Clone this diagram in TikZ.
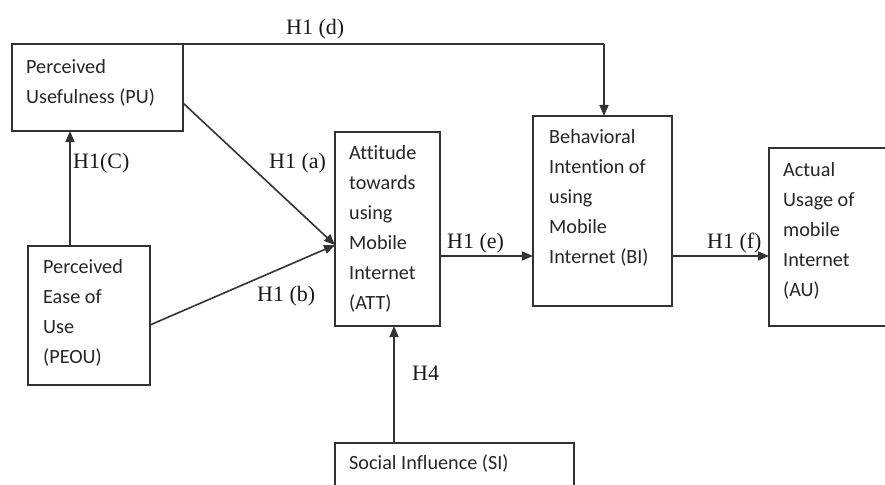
\documentclass[tikz,border=0pt]{standalone}
\usepackage{fontspec}
\setmainfont{Liberation Serif}
\newfontfamily\boxfont[Ligatures=NoCommon]{Carlito}
\usetikzlibrary{arrows.meta}
\newcommand\topstrut{\rule{0pt}{20pt}}
\tikzset{
  box/.style={draw=black!80, line width=1.6pt, anchor=north west, inner sep=0pt, outer sep=0pt},
  txt/.style={anchor=north west, inner sep=0pt, font=\boxfont\fontsize{20.2}{30}\selectfont, align=left, text=black!85},
  lbl/.style={anchor=base west, inner sep=0pt, font=\fontsize{22}{26}\selectfont, text=black!90},
  arr/.style={line width=1.6pt, draw=black!80, -{Triangle[length=11pt,width=9pt]}},
  ln/.style={line width=1.6pt, draw=black!80}
}
\begin{document}
\begin{tikzpicture}[x=1pt,y=-1pt]
\useasboundingbox (0,0) rectangle (885,484);
\clip (0,0) rectangle (885,484);
\fill[white] (0,0) rectangle (885,484);
% boxes
\node[box, minimum width=171pt, minimum height=87pt] (pu) at (12,44) {};
\node[box, minimum width=122pt, minimum height=139pt] (peou) at (28,246) {};
\node[box, minimum width=105pt, minimum height=194pt] (att) at (335,132) {};
\node[box, minimum width=139pt, minimum height=190pt] (bi) at (533,116) {};
\node[box, minimum width=130pt, minimum height=178pt] (au) at (769,148) {};
\node[box, minimum width=239pt, minimum height=60pt] (si) at (335,443) {};
% texts (first baseline = y + 20)
\node[txt] (put) at (26,53) {\topstrut Perceived\\Usefulness (PU)};
\node[txt] (peout) at (43,253) {\topstrut Perceived\\Ease of\\Use\\(PEOU)};
\node[txt] (attt) at (349,139) {\topstrut Attitude\\towards\\using\\Mobile\\Internet\\(ATT)};
\node[txt] (bit) at (549,123) {\topstrut Behavioral\\Intention of\\using\\Mobile\\Internet (BI)};
\node[txt] (aut) at (783,156) {\topstrut Actual\\Usage of\\mobile\\Internet\\(AU)};
\node[txt] (sit) at (349,449) {\topstrut Social Influence (SI)};
% connector helper coordinates
\coordinate (dcorner) at (604,44);
\coordinate (attin) at (335,245);
% connectors
\draw[ln] (pu.north east) -- (dcorner);
\draw[arr] (dcorner) -- (bi.north -| dcorner);
\draw[arr] (peou.north -| 70,0) -- (pu.south -| 70,0);
\draw[arr] (pu.east |- 0,103) -- (attin);
\draw[arr] (peou.east |- 0,325) -- (attin);
\draw[arr] (att.east |- 0,256) -- (bi.west |- 0,256);
\draw[arr] (bi.east |- 0,256) -- (au.west |- 0,256);
\draw[arr] (si.north -| 394,0) -- (att.south -| 394,0);
% labels
\node[lbl] (ld) at (286,35) {H1 (d)};
\node[lbl] (lc) at (73,168) {H1(C)};
\node[lbl] (la) at (269,168) {H1 (a)};
\node[lbl] (lb) at (257,301) {H1 (b)};
\node[lbl] (le) at (447,248) {H1 (e)};
\node[lbl] (lf) at (707,248) {H1 (f)};
\node[lbl] (lh) at (412,380) {H4};
\end{tikzpicture}
\end{document}
